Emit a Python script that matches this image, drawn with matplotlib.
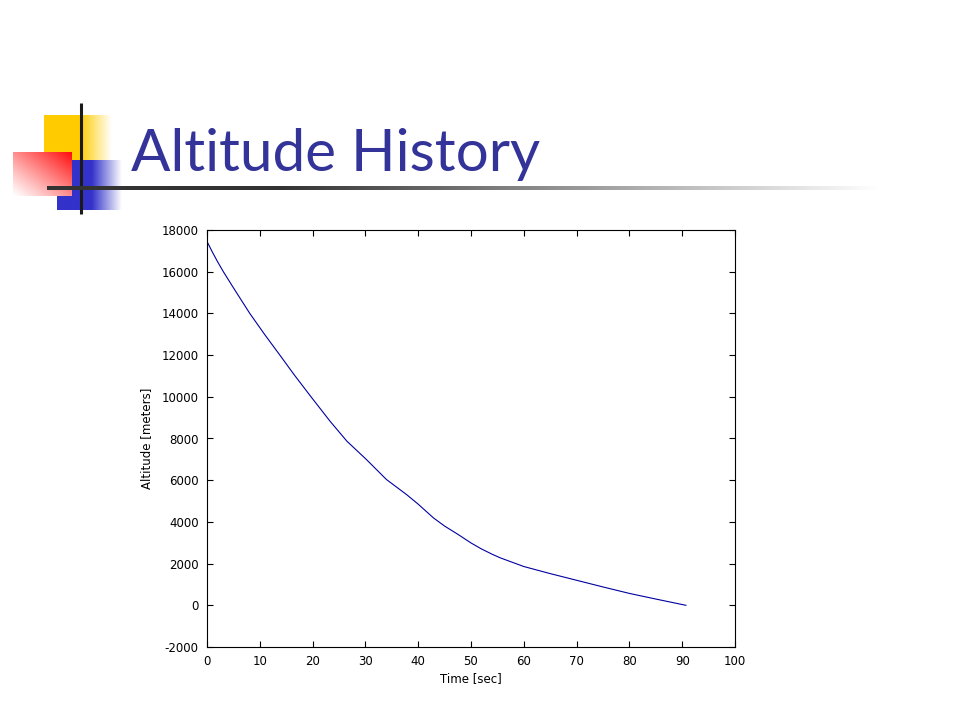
import matplotlib
matplotlib.use("Agg")
import matplotlib.pyplot as plt
import numpy as np

# altitude readings (time in sec, altitude in meters)
time_sec = [0, 1, 2, 3.1, 5, 8.1, 11, 13.8, 16.5, 19.7, 23.3, 26.5, 30.2, 34, 37.8, 40,
            42.9, 45, 47.6, 50, 52, 54, 55.5, 57, 58.5, 60, 65, 70, 75, 80, 85, 90.7]
altitude = [17450, 16950, 16480, 16000, 15230, 14000, 12960, 12000, 11060, 10000, 8830,
            7870, 6990, 6030, 5310, 4850, 4190, 3800, 3390, 2990, 2700, 2450, 2280, 2140,
            2000, 1860, 1520, 1200, 880, 570, 300, 0]
x_ticks = list(range(0, 101, 10))
y_ticks = list(range(-2000, 18001, 2000))

title_text = "Altitude History"
x_label = "Time [sec]"
y_label = "Altitude [meters]"

plt.rcParams['axes.unicode_minus'] = False

fig = plt.figure(figsize=(9.6, 7.2), dpi=100)

# slide decoration layer in pixel coordinates
bg = fig.add_axes([0, 0, 1, 1], zorder=0)
bg.set_xlim(0, 960)
bg.set_ylim(720, 0)
bg.axis('off')

def hfade(color, x0, x1, y0, y1, solid_until):
	# solid colour up to solid_until, then fading to white at x1
	n = 200
	xs = np.linspace(x0, x1, n)
	a = np.clip((x1 - xs) / (x1 - solid_until), 0, 1)
	img = np.ones((1, n, 4))
	img[0, :, :3] = matplotlib.colors.to_rgb(color)
	img[0, :, 3] = a
	bg.imshow(img, extent=(x0, x1, y1, y0), aspect='auto', interpolation='bilinear', zorder=1)

hfade('#FFCC00', 44, 112, 115, 160, 80)
hfade('#3333CC', 57, 122, 160, 210, 92)

# red square: opaque, red at top-right going to white at bottom-left
n = 100
gx, gy = np.meshgrid(np.linspace(0, 1, n), np.linspace(0, 1, n))
t = np.clip((gx + (1 - gy)) / 2, 0, 1) ** 1.1
red = np.ones((n, n, 3))
red[..., 1] = 1 - 0.95 * t
red[..., 2] = 1 - 0.95 * t
bg.imshow(red, extent=(13, 72, 196, 152), aspect='auto', interpolation='bilinear', zorder=2)

# black cross lines
bg.plot([81, 81], [103, 214], color='#1a1a1a', lw=2.2, zorder=3, solid_capstyle='butt')
m = 400
lx = np.linspace(47, 880, m)
shade = np.clip((lx - 280) / 600, 0, 1)
cols = np.zeros((1, m, 4))
cols[0, :, :3] = (0.2 + 0.8 * shade)[:, None]
cols[0, :, 3] = 1
bg.imshow(cols, extent=(47, 880, 190, 186.5), aspect='auto', interpolation='bilinear', zorder=3)

bg.text(131, 171, title_text, fontsize=42, color='#333399', family='Lato',
	va='baseline', ha='left', zorder=4)

# main plot
ax = fig.add_axes([207/960, 1 - 647/720, 528/960, 417/720], zorder=5)
ax.plot(time_sec, altitude, color='#0000A0', lw=0.8)
ax.set_xlim(0, 100)
ax.set_ylim(-2000, 18000)
ax.set_xticks(x_ticks)
ax.set_yticks(y_ticks)
ax.tick_params(direction='in', top=True, right=True, length=4, labelsize=8.5, width=0.8)
ax.tick_params(axis='x', pad=6)
ax.tick_params(axis='y', pad=6)
for s in ax.spines.values():
	s.set_linewidth(0.8)
ax.set_xlabel(x_label, fontsize=8.5, labelpad=3)
ax.set_ylabel(y_label, fontsize=8.5, labelpad=6)

plt.savefig("out.png", dpi=100)
